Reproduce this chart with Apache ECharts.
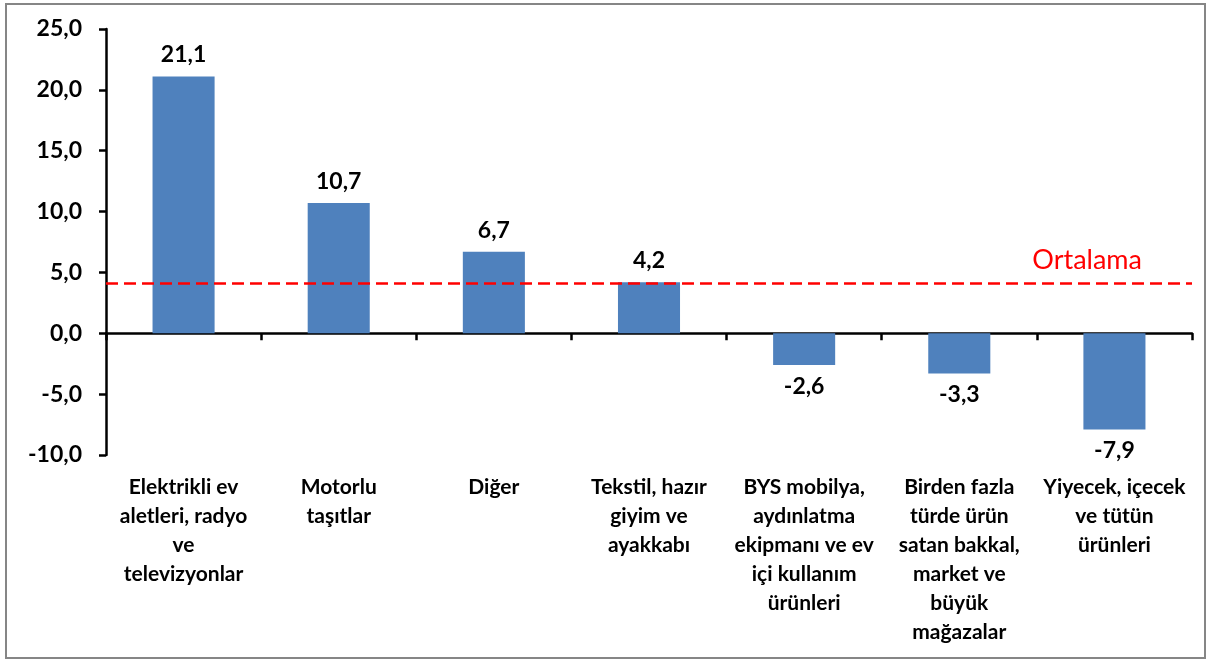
<!DOCTYPE html>
<html>
<head>
<meta charset="utf-8">
<script src="https://cdn.jsdelivr.net/npm/echarts@6/dist/echarts.min.js"></script>
<style>
  html, body { margin: 0; padding: 0; background: #fff; }
  #chart { width: 1212px; height: 662px; }
</style>
</head>
<body>
<div id="chart"></div>
<script>
// kategoriler (resimdeki satır kırılımlarıyla)
const categories = [
  'Elektrikli ev\naletleri, radyo\nve\ntelevizyonlar',
  'Motorlu\ntaşıtlar',
  'Diğer',
  'Tekstil, hazır\ngiyim ve\nayakkabı',
  'BYS mobilya,\naydınlatma\nekipmanı ve ev\niçi kullanım\nürünleri',
  'Birden fazla\ntürde ürün\nsatan bakkal,\nmarket ve\nbüyük\nmağazalar',
  'Yiyecek, içecek\nve tütün\nürünleri'
]
const values = [21.1, 10.7, 6.7, 4.2, -2.6, -3.3, -7.9]
const average = 4.1
const averageLabel = 'Ortalama'

const fmt = v => v.toFixed(1).replace('.', ',')
const font = 'Lato, "Open Sans", sans-serif'

const chart = echarts.init(document.getElementById('chart'))

chart.setOption({
  animation: false,
  backgroundColor: '#fff',
  grid: { left: 106, right: 20, top: 29, bottom: 207 },
  graphic: [{
    type: 'rect',
    shape: { x: 6, y: 4, width: 1199, height: 654 },
    style: { fill: 'none', stroke: '#868686', lineWidth: 2 },
    silent: true
  }],
  // x ekseni: sıfır çizgisi + aşağıdaki etiketler
  xAxis: [{
    type: 'category',
    data: categories,
    axisLine: { onZero: true, lineStyle: { color: '#000', width: 2.5 } },
    axisTick: { show: true, alignWithLabel: false, length: 7, lineStyle: { color: '#000', width: 2.5 } },
    axisLabel: { show: false },
    splitLine: { show: false }
  }, {
    type: 'category',
    data: categories,
    position: 'bottom',
    axisLine: { show: false, onZero: false },
    axisTick: { show: false },
    axisLabel: {
      interval: 0,
      margin: 18,
      color: '#000',
      fontFamily: font,
      fontWeight: 'bold',
      fontSize: 21,
      lineHeight: 29,
      align: 'center'
    }
  }],
  yAxis: {
    type: 'value',
    min: -10,
    max: 25,
    interval: 5,
    axisLine: { show: true, lineStyle: { color: '#000', width: 2.5 } },
    axisTick: { show: true, length: 7, lineStyle: { color: '#000', width: 2.5 } },
    splitLine: { show: false },
    axisLabel: {
      margin: 24,
      color: '#000',
      fontFamily: font,
      fontWeight: 'bold',
      fontSize: 23,
      formatter: v => fmt(v)
    }
  },
  series: [{
    type: 'bar',
    data: values,
    barWidth: '40%',
    itemStyle: { color: '#4F81BD' },
    label: {
      show: true,
      position: 'outside',
      distance: 10,
      color: '#000',
      fontFamily: font,
      fontWeight: 'bold',
      fontSize: 23,
      formatter: p => fmt(p.value)
    },
    markLine: {
      silent: true,
      symbol: 'none',
      data: [{ yAxis: average }],
      lineStyle: { color: '#FF0000', type: [12, 6], width: 2.5 },
      label: {
        show: true,
        position: 'insideEndTop',
        formatter: averageLabel,
        color: '#FF0000',
        fontFamily: font,
        fontSize: 27,
        distance: [50, 10]
      }
    }
  }]
})
</script>
</body>
</html>
